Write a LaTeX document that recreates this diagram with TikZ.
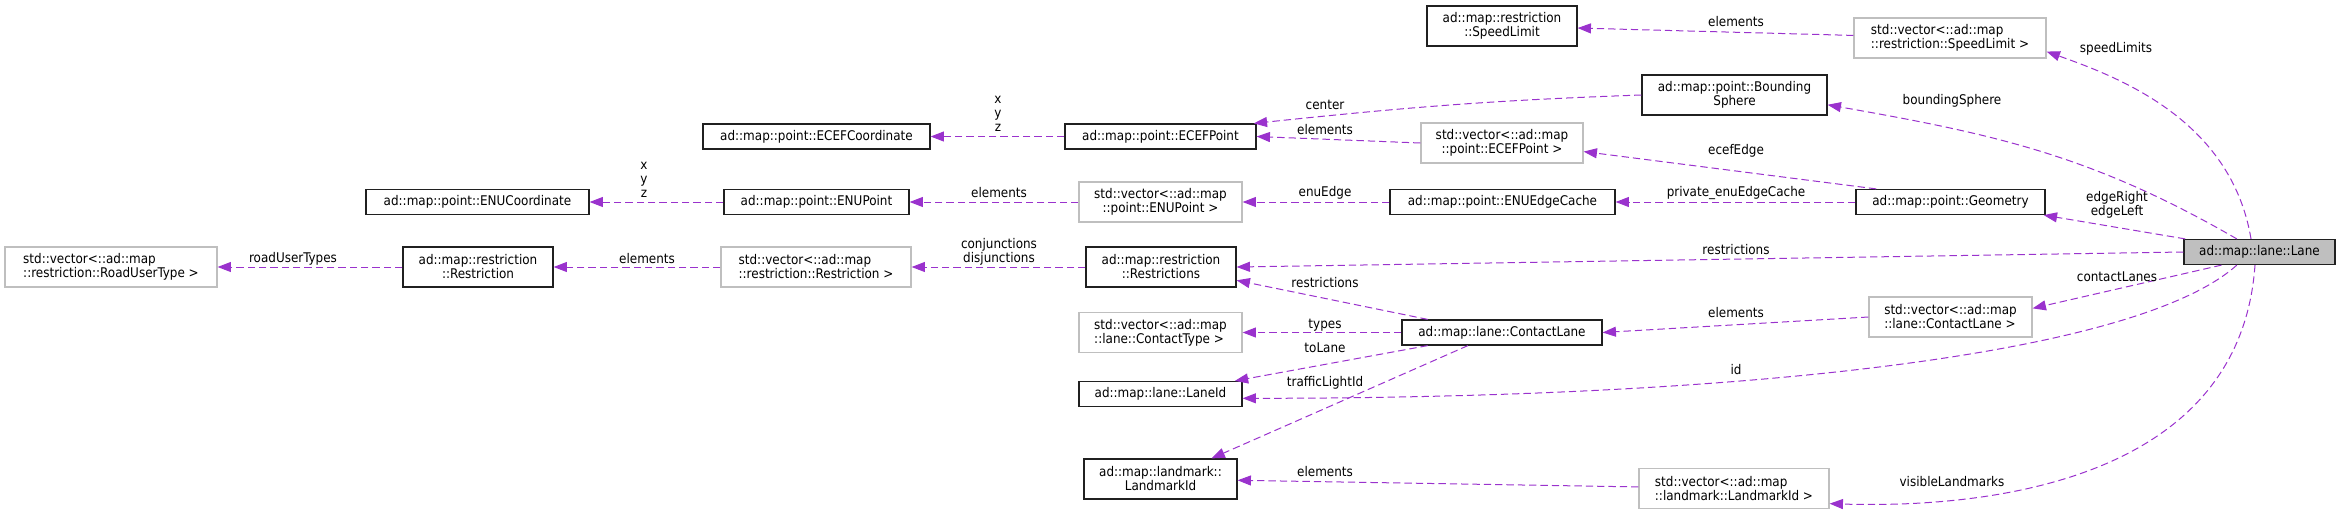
\documentclass[tikz,border=0pt]{standalone}
\usepackage{fontspec}
\setmainfont{DejaVu Sans Condensed}
\usepackage{tikz}
\usetikzlibrary{arrows.meta}
\definecolor{edgePurple}{HTML}{9A32CD}
\definecolor{laneFill}{HTML}{BFBFBF}
\definecolor{vecBorder}{HTML}{BFBFBF}
\definecolor{classBorder}{HTML}{202020}

\begin{document}
\begin{tikzpicture}[
    x=0.75pt, y=-0.75pt,
    cls/.style={
        draw=classBorder, fill=white, line width=0.9pt,
        align=center, inner sep=0pt,
        minimum height=18.75pt,
        font=\fontsize{10}{10.5}\selectfont,
    },
    vec/.style={
        cls, draw=vecBorder, align=left,
    },
    twoline/.style={minimum height=30pt},
    rel/.style={
        draw=edgePurple, line width=0.75pt,
        dash pattern=on 5.5pt off 3pt,
        -{Triangle[length=10pt, width=7.5pt]},
    },
    lbl/.style={
        font=\fontsize{10}{10.5}\selectfont,
        align=center, inner sep=0pt,
    },
]
\useasboundingbox (0,0) rectangle (2341,515);

%--- Class boxes ---
\node[cls, twoline, minimum width=112.5pt] (speedLimit) at (1502,26) {ad::map::restriction\\::SpeedLimit};
\node[vec, twoline, minimum width=144pt] (speedLimitVec) at (1950,38) {std::vector<::ad::map\\::restriction::SpeedLimit >};
\node[cls, twoline, minimum width=138.75pt] (boundingSphere) at (1734.5,95) {ad::map::point::Bounding\\Sphere};

\node[cls, minimum width=170.25pt] (ecefCoord) at (816.5,136.5) {ad::map::point::ECEFCoordinate};
\node[cls, minimum width=143.25pt] (ecefPoint) at (1160.5,136.5) {ad::map::point::ECEFPoint};
\node[vec, twoline, align=center, minimum width=121.5pt] (ecefVec) at (1502,143) {std::vector<::ad::map\\::point::ECEFPoint >};

\node[cls, minimum width=167.25pt] (enuCoord) at (477.5,202) {ad::map::point::ENUCoordinate};
\node[cls, minimum width=138.75pt] (enuPoint) at (816.5,202) {ad::map::point::ENUPoint};
\node[vec, twoline, align=center, minimum width=122.25pt] (enuVec) at (1160.5,202) {std::vector<::ad::map\\::point::ENUPoint >};
\node[cls, minimum width=168.75pt] (enuEdgeCache) at (1502.5,202) {ad::map::point::ENUEdgeCache};
\node[cls, minimum width=141.75pt] (geometry) at (1950.5,202) {ad::map::point::Geometry};

\node[vec, twoline, minimum width=159pt] (roadUserVec) at (111,267) {std::vector<::ad::map\\::restriction::RoadUserType >};
\node[cls, twoline, minimum width=112.5pt] (restriction) at (478,267) {ad::map::restriction\\::Restriction};
\node[vec, twoline, minimum width=142.5pt] (restrictionVec) at (816,267) {std::vector<::ad::map\\::restriction::Restriction >};
\node[cls, twoline, minimum width=112.5pt] (restrictions) at (1161,267) {ad::map::restriction\\::Restrictions};

% the class of this diagram
\node[cls, fill=laneFill, minimum width=113.25pt] (lane) at (2259.5,252) {ad::map::lane::Lane};

\node[vec, twoline, minimum width=122.25pt] (contactTypeVec) at (1160.5,332.5) {std::vector<::ad::map\\::lane::ContactType >};
\node[cls, minimum width=150pt] (contactLane) at (1502,332.5) {ad::map::lane::ContactLane};
\node[vec, twoline, minimum width=122.25pt] (contactLaneVec) at (1950.5,317) {std::vector<::ad::map\\::lane::ContactLane >};
\node[cls, minimum width=122.25pt] (laneId) at (1160.5,394) {ad::map::lane::LaneId};
\node[cls, twoline, minimum width=114.75pt] (landmarkId) at (1160.5,479) {ad::map::landmark::\\LandmarkId};
\node[vec, twoline, minimum width=142.5pt] (landmarkIdVec) at (1734,488.5) {std::vector<::ad::map\\::landmark::LandmarkId >};

%--- Members of Lane ---
\draw[rel] (lane.123) .. controls +(-20,-120) and +(70,25) .. (speedLimitVec.-8)
    node[lbl] at (2116,49) {speedLimits};
\draw[rel] (lane.150) to[out=150, in=-10] (boundingSphere.-6)
    node[lbl] at (1952,101) {boundingSphere};
\draw[rel] (lane.170) -- (geometry.-8)
    node[lbl] at (2117,205) {edgeRight\\edgeLeft};
\draw[rel] (lane.west) -- (restrictions.east)
    node[lbl] at (1736,250) {restrictions};
\draw[rel] (lane.199) -- (contactLaneVec.6)
    node[lbl] at (2117,277) {contactLanes};
\draw[rel] (lane.210) .. controls +(-100,90) and +(500,0) .. (laneId.-3)
    node[lbl] at (1736,370) {id};
\draw[rel] (lane.251) .. controls +(-15,215) and +(160,5) .. (landmarkIdVec.-9)
    node[lbl] at (1952,482) {visibleLandmarks};

%--- Geometry and points ---
\draw[rel] (speedLimitVec) -- (speedLimit) node[lbl] at (1736,22) {elements};
\draw[rel] (boundingSphere.west) to[out=182, in=6] (ecefPoint.8)
    node[lbl] at (1325,105) {center};
\draw[rel] (ecefVec.west) -- (ecefPoint.east) node[lbl] at (1325,130) {elements};
\draw[rel] (ecefPoint) -- (ecefCoord) node[lbl] at (998,114) {x\\y\\z};
\draw[rel] (geometry.170) -- (ecefVec.-6) node[lbl] at (1736,151) {ecefEdge};
\draw[rel] (geometry) -- (enuEdgeCache) node[lbl] at (1736,193) {private\_enuEdgeCache};
\draw[rel] (enuEdgeCache) -- (enuVec) node[lbl] at (1325,193) {enuEdge};
\draw[rel] (enuVec) -- (enuPoint) node[lbl] at (999,193) {elements};
\draw[rel] (enuPoint) -- (enuCoord) node[lbl] at (644,180) {x\\y\\z};

%--- Restrictions ---
\draw[rel] (restrictions) -- (restrictionVec) node[lbl] at (999,251.5) {conjunctions\\disjunctions};
\draw[rel] (restrictionVec) -- (restriction) node[lbl] at (647,259) {elements};
\draw[rel] (restriction) -- (roadUserVec) node[lbl] at (293,259) {roadUserTypes};

%--- Contact lanes and landmarks ---
\draw[rel] (contactLaneVec.west) -- (contactLane.east) node[lbl] at (1736,313) {elements};
\draw[rel] (contactLane.170) -- (restrictions.-10) node[lbl] at (1325,283) {restrictions};
\draw[rel] (contactLane) -- (contactTypeVec) node[lbl] at (1325,325) {types};
\draw[rel] (contactLane.190) -- (laneId.10) node[lbl] at (1325,348) {toLane};
\draw[rel] (contactLane.201) -- (landmarkId.22) node[lbl] at (1325,383) {trafficLightId};
\draw[rel] (landmarkIdVec) -- (landmarkId) node[lbl] at (1325,472) {elements};

\end{tikzpicture}
\end{document}
